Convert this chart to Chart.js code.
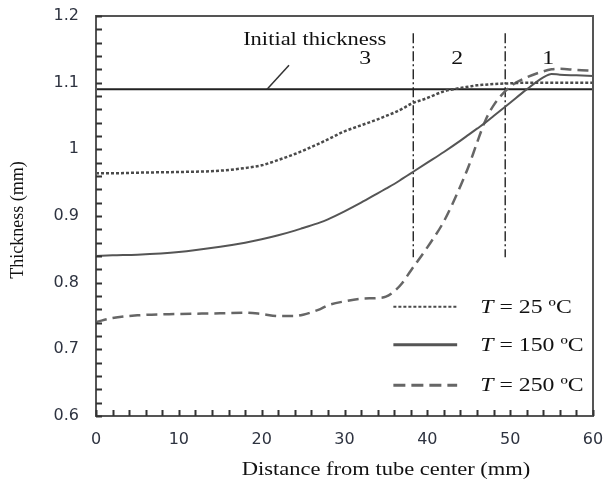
<!DOCTYPE html>
<html lang="en">
<head>
    <meta charset="UTF-8">
    <title>Thickness vs distance</title>
    <script src="https://cdn.jsdelivr.net/npm/chart.js"></script>
    <style>
        body { margin: 0; background: #fff; }
        #wrap { width: 603px; height: 482px; position: relative; }
    </style>
</head>
<body>
    <div id="wrap">
        <canvas id="thicknessChart"></canvas>
    </div>

    <script>
        // distance from tube center (mm)
        var distances = [0, 2, 5, 10, 15, 18, 20, 22, 24, 25, 27, 28, 30, 32, 34, 35, 36, 37, 38,
                         40, 42, 44, 45, 46, 47, 48, 50, 52, 54, 55, 56, 58, 60];
        // thickness (mm) per temperature
        var t25 = [0.964, 0.964, 0.965, 0.966, 0.968, 0.972, 0.976, 0.984, 0.993, 0.998, 1.009, 1.015,
                   1.027, 1.036, 1.045, 1.050, 1.055, 1.061, 1.068, 1.077, 1.087, 1.092, 1.094, 1.096,
                   1.097, 1.098, 1.099, 1.100, 1.100, 1.100, 1.100, 1.100, 1.100];
        var t150 = [0.840, 0.841, 0.842, 0.846, 0.854, 0.860, 0.865, 0.871, 0.878, 0.882, 0.890, 0.895,
                    0.907, 0.920, 0.934, 0.941, 0.948, 0.956, 0.964, 0.980, 0.996, 1.013, 1.022, 1.031,
                    1.040, 1.050, 1.070, 1.090, 1.108, 1.113, 1.112, 1.111, 1.110];
        var t250 = [0.741, 0.747, 0.751, 0.753, 0.754, 0.755, 0.753, 0.750, 0.750, 0.752, 0.760, 0.766,
                    0.772, 0.776, 0.777, 0.779, 0.787, 0.800, 0.818, 0.853, 0.892, 0.945, 0.975, 1.010,
                    1.043, 1.066, 1.094, 1.108, 1.117, 1.120, 1.121, 1.119, 1.118];
        var seriesLabels = ['25', '150', '250'];

        var initialThickness = 1.09;
        var zoneBounds = [38.3, 49.4];
        var zoneNames = ['3', '2', '1'];
        var zoneLabelX = [32.5, 43.6, 54.6];

        var xMin = 0, xMax = 60, xStep = 10, xMinor = 2;
        var yMin = 0.6, yMax = 1.2, yStep = 0.1, yMinor = 0.02;

        function pts(xs, ys) {
            return xs.map(function (x, i) { return { x: x, y: ys[i] }; });
        }

        var serif = '"Liberation Serif", "Times New Roman", serif';
        var stretch = 1.25;   // the source image is a bit wide

        var styles = [
            { color: '#4a4a4a', width: 2.5, dash: [3, 2] },
            { color: '#555555', width: 2, dash: [] },
            { color: '#666666', width: 2.5, dash: [11, 6] }
        ];
        var seriesData = [t25, t150, t250];

        var datasets = seriesData.map(function (ys, i) {
            return {
                label: 'T = ' + seriesLabels[i] + ' ºC',
                data: pts(distances, ys),
                borderColor: styles[i].color,
                borderWidth: styles[i].width,
                borderDash: styles[i].dash,
                pointRadius: 0,
                cubicInterpolationMode: 'monotone',
                fill: false
            };
        });

        // initial thickness reference line
        datasets.push({
            label: 'Initial thickness',
            data: [{ x: xMin, y: initialThickness }, { x: xMax, y: initialThickness }],
            borderColor: '#222',
            borderWidth: 2,
            pointRadius: 0
        });
        // zone boundaries
        zoneBounds.forEach(function (b) {
            datasets.push({
                label: 'zone',
                data: [{ x: b, y: 1.174 }, { x: b, y: 0.838 }],
                borderColor: '#111',
                borderWidth: 1.3,
                borderDash: [10, 3, 2, 3],
                pointRadius: 0
            });
        });

        // text drawn wider than the font, like the original
        function wideText(ctx, text, x, y, align) {
            ctx.save();
            ctx.translate(x, y);
            ctx.scale(stretch, 1);
            ctx.textAlign = align || 'center';
            ctx.fillText(text, 0, 0);
            ctx.restore();
            return ctx.measureText(text).width * stretch;
        }

        var decor = {
            id: 'decor',
            afterDatasetsDraw: function (chart) {
                var ctx = chart.ctx;
                var xs = chart.scales.x, ys = chart.scales.y;
                var a = chart.chartArea;
                ctx.save();

                // frame
                ctx.strokeStyle = '#555';
                ctx.lineWidth = 2;
                ctx.setLineDash([]);
                ctx.strokeRect(a.left, a.top, a.right - a.left, a.bottom - a.top);

                // inward ticks
                ctx.strokeStyle = '#333';
                ctx.lineWidth = 2;
                ctx.beginPath();
                for (var v = yMin; v <= yMax + 1e-9; v += yMinor) {
                    var py = Math.round(ys.getPixelForValue(v)) + 0.5;
                    ctx.moveTo(a.left, py);
                    ctx.lineTo(a.left + 6, py);
                }
                for (var u = xMin; u <= xMax + 1e-9; u += xMinor) {
                    var px = Math.round(xs.getPixelForValue(u)) + 0.5;
                    ctx.moveTo(px, a.bottom);
                    ctx.lineTo(px, a.bottom - 6);
                }
                ctx.stroke();

                // initial thickness annotation
                ctx.fillStyle = '#111';
                ctx.font = '18px ' + serif;
                ctx.textBaseline = 'middle';
                wideText(ctx, 'Initial thickness', xs.getPixelForValue(26.4), ys.getPixelForValue(1.164));
                ctx.strokeStyle = '#333';
                ctx.lineWidth = 1.5;
                ctx.beginPath();
                ctx.moveTo(xs.getPixelForValue(20.65), ys.getPixelForValue(initialThickness));
                ctx.lineTo(xs.getPixelForValue(23.3), ys.getPixelForValue(1.126));
                ctx.stroke();

                // zone numbers
                ctx.font = '19px ' + serif;
                zoneNames.forEach(function (n, i) {
                    wideText(ctx, n, xs.getPixelForValue(zoneLabelX[i]), ys.getPixelForValue(1.135));
                });

                // legend
                var legY = [0.764, 0.707, 0.646];
                var x0 = xs.getPixelForValue(35.9), x1 = xs.getPixelForValue(43.6);
                var tx = xs.getPixelForValue(46.4);
                var legW = [2, 3, 3];
                var legDash = [[3, 2], [], [12, 6]];
                seriesLabels.forEach(function (lab, i) {
                    var py = ys.getPixelForValue(legY[i]);
                    ctx.strokeStyle = styles[i].color;
                    ctx.lineWidth = legW[i];
                    ctx.setLineDash(legDash[i]);
                    ctx.beginPath();
                    ctx.moveTo(x0, py);
                    ctx.lineTo(x1, py);
                    ctx.stroke();
                    ctx.setLineDash([]);
                    ctx.fillStyle = '#111';
                    ctx.font = 'italic 19px ' + serif;
                    var w = wideText(ctx, 'T', tx, py + 1, 'left');
                    ctx.font = '19px ' + serif;
                    wideText(ctx, ' = ' + lab + ' ºC', tx + w, py + 1, 'left');
                });

                // axis titles
                ctx.fillStyle = '#111';
                ctx.font = '18px ' + serif;
                wideText(ctx, 'Distance from tube center (mm)', 386, 470);
                ctx.translate(18, 220);
                ctx.rotate(-Math.PI / 2);
                ctx.textAlign = 'center';
                ctx.fillText('Thickness (mm)', 0, 0);

                ctx.restore();
            }
        };

        var tickFont = { family: '"DejaVu Sans", sans-serif', size: 16 };

        var ctx = document.getElementById('thicknessChart').getContext('2d');
        var chart = new Chart(ctx, {
            type: 'line',
            data: { datasets: datasets },
            options: {
                responsive: true,
                maintainAspectRatio: false,
                animation: false,
                layout: { padding: { top: 16, right: 10, left: 0, bottom: 0 } },
                plugins: {
                    legend: { display: false },
                    tooltip: { enabled: false }
                },
                scales: {
                    x: {
                        type: 'linear',
                        min: xMin,
                        max: xMax,
                        ticks: {
                            stepSize: xStep,
                            padding: 14,
                            color: '#2e3340',
                            font: tickFont
                        },
                        grid: { display: false, drawTicks: false },
                        border: { display: false },
                        afterFit: function (s) {
                            s.height = 66;
                            s.paddingLeft = 0;
                            s.paddingRight = 0;
                        }
                    },
                    y: {
                        min: yMin,
                        max: yMax,
                        ticks: {
                            stepSize: yStep,
                            padding: 17,
                            color: '#2e3340',
                            font: tickFont,
                            callback: function (v) { return Math.round(v * 10) / 10; }
                        },
                        grid: { display: false, drawTicks: false },
                        border: { display: false },
                        afterFit: function (s) {
                            s.width = 96;
                            s.paddingTop = 0;
                            s.paddingBottom = 0;
                        }
                    }
                }
            },
            plugins: [decor]
        });
    </script>
</body>
</html>
